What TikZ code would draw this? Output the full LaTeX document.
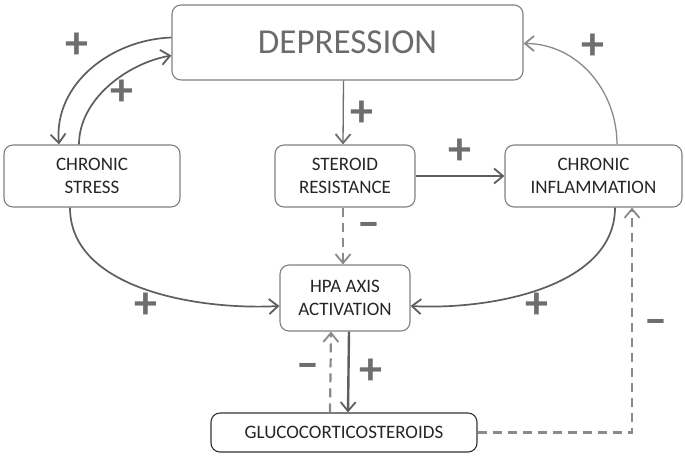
\documentclass[tikz,border=0pt]{standalone}
\usepackage{fontspec}
\setmainfont{Carlito}
\usetikzlibrary{arrows.meta}
\definecolor{boxline}{HTML}{808080}
\definecolor{deptext}{HTML}{6B6B6B}
\definecolor{solidarr}{HTML}{5E5E5E}
\definecolor{thinarr}{HTML}{6E6E6E}
\definecolor{dasharr}{HTML}{8A8A8A}
\definecolor{signcol}{HTML}{6E6E6E}
\tikzset{
  box/.style={draw=boxline, line width=1.1pt, rounded corners=9pt, rectangle, align=center,
    font=\fontsize{19}{23}\selectfont, text=black!85, inner sep=0pt},
  tip/.style={-{Straight Barb[length=9pt,width=15pt,line width=1.8pt]}},
  thickarr/.style={tip, draw=solidarr, line width=2.4pt},
  midarr/.style={tip, draw=solidarr, line width=1.7pt},
  thinarrow/.style={tip, draw=thinarr, line width=1.3pt},
  dasharrow/.style={tip, draw=dasharr, line width=2.2pt, dash pattern=on 9pt off 6pt},
  sign/.style={text=signcol, font=\fontsize{46}{46}\selectfont\bfseries, inner sep=0pt},
}
\begin{document}
\begin{tikzpicture}[x=1pt,y=-1pt]
\useasboundingbox (0,0) rectangle (685,459);
\fill[white] (0,0) rectangle (685,459);
\node[box, minimum width=351pt, minimum height=75pt, text=deptext, font=\fontsize{35}{40}\selectfont] (dep) at (347.5,42.5) {DEPRESSION};
\node[box, minimum width=176pt, minimum height=62pt] (stress) at (92,176) {CHRONIC\\STRESS};
\node[box, minimum width=140pt, minimum height=62pt] (ster) at (345,176) {STEROID\\RESISTANCE};
\node[box, minimum width=177pt, minimum height=62pt] (infl) at (593.5,176) {CHRONIC\\INFLAMMATION};
\node[box, minimum width=130pt, minimum height=66pt] (hpa) at (345,298) {HPA AXIS\\ACTIVATION};
\node[box, draw=black!80, minimum width=266pt, minimum height=39pt] (gluco) at (344,432.5) {GLUCOCORTICOSTEROIDS};

% connectors
\draw[midarr] ([yshift=5pt]dep.west) to[out=182,in=95,looseness=1.0] ([xshift=-33pt]stress.north);
\draw[midarr] ([xshift=-13pt]stress.north) to[out=90,in=190,looseness=0.9] ([yshift=-13pt]dep.west);
\draw[thinarrow] ([xshift=-4pt]dep.south) -- ([xshift=-2pt]ster.north);
\draw[thickarr] (ster.east) -- (infl.west);
\draw[thinarrow, draw=dasharr] ([xshift=23.5pt]infl.north) to[out=90,in=0,looseness=1.0] ([yshift=-1pt]dep.east);
\draw[dasharrow] ([xshift=-2pt]ster.south) -- ([xshift=-2pt]hpa.north);
\draw[midarr] ([xshift=-22pt]stress.south) to[out=-90,in=183,looseness=0.9] ([yshift=-8pt]hpa.west);
\draw[midarr] ([xshift=21.5pt]infl.south) to[out=-90,in=-3,looseness=0.9] ([yshift=-8pt]hpa.east);
\draw[thickarr] ([xshift=4pt]hpa.south) -- ([xshift=4pt]gluco.north);
\draw[dasharrow] ([xshift=-14pt]gluco.north) -- ([xshift=-14pt]hpa.south);
\draw[dasharrow] (gluco.east) -| ([xshift=38.5pt]infl.south);

% signs
\node[sign] (p1) at (77,46) {+};
\node[sign] (p2) at (122,93) {+};
\node[sign] (p3) at (362,114) {+};
\node[sign] (p4) at (460,152) {+};
\node[sign] (p5) at (593,47) {+};
\node[sign] (p6) at (146,306) {+};
\node[sign] (p7) at (537,306) {+};
\node[sign] (p8) at (371,372) {+};
\node[sign] (m1) at (369,230) {–};
\node[sign] (m2) at (656,327) {–};
\node[sign] (m3) at (308,371) {–};
\end{tikzpicture}
\end{document}
